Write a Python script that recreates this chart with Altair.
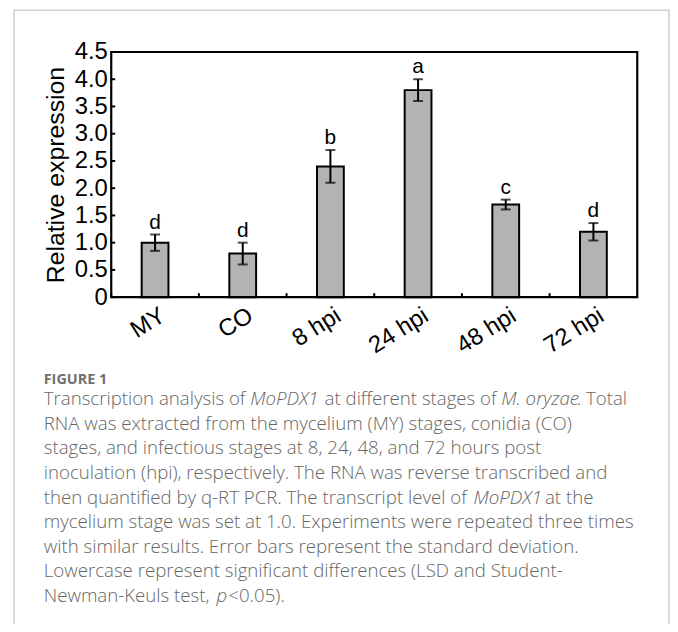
import altair as alt
import pandas as pd

# ---------------- data ----------------
stages = ["MY", "CO", "8 hpi", "24 hpi", "48 hpi", "72 hpi"]
means = [1.0, 0.8, 2.4, 3.8, 1.7, 1.2]
sds = [0.15, 0.2, 0.3, 0.2, 0.09, 0.16]
letters = ["d", "d", "b", "a", "c", "d"]
y_ticks = [0, 0.5, 1.0, 1.5, 2.0, 2.5, 3.0, 3.5, 4.0, 4.5]

figure_label = "FIGURE 1"
caption_segments = [
    ["Transcription analysis of ", "MoPDX1", "at different stages of ", "M. oryzae", ". Total"],
    ["RNA was extracted from the mycelium (MY) stages, conidia (CO)"],
    ["stages, and infectious stages at 8, 24, 48, and 72 hours post"],
    ["inoculation (hpi), respectively. The RNA was reverse transcribed and"],
    ["then quantified by q-RT PCR. The transcript level of ", "MoPDX1", "at the"],
    ["mycelium stage was set at 1.0. Experiments were repeated three times"],
    ["with similar results. Error bars represent the standard deviation."],
    ["Lowercase represent significant differences (LSD and Student-"],
    ["Newman-Keuls test, ", "p", "<0.05)."],
]
italic_flags = [
    [False, True, False, True, False],
    [False], [False], [False],
    [False, True, False],
    [False], [False], [False],
    [False, True, False],
]

# ---------------- layout (pixels, relative to plot area) ----------------
W, H = 530, 247
seg_x = [
    [-68, 140, 215, 393, 469],
    [-68], [-68], [-68],
    [-68, 365, 437],
    [-68], [-68], [-68],
    [-68, 106, 118],
]
cap_y0 = 356
cap_dy = 24.75
CAP_FONT = "Open Sans"
CAP_SIZE = 18.8

df = pd.DataFrame({"stage": stages, "mean": means, "sd": sds, "letter": letters})
df["lo"] = df["mean"] - df["sd"]
df["hi"] = df["mean"] + df["sd"]

FONT = "Liberation Sans"
yscale = alt.Scale(domain=[0, 4.5], nice=False)
xs = alt.Scale(paddingInner=0, paddingOuter=0)

xaxis = alt.Axis(title=None, labelAngle=-32, labelAlign="right",
                 labelBaseline="top", labelFontSize=24, labelFont=FONT,
                 labelColor="black", labelPadding=6, ticks=False,
                 domain=False, labelOffset=2)
yaxis = alt.Axis(title="Relative expression", values=y_ticks,
                 labelExpr="datum.value == 0 ? '0' : format(datum.value, '.1f')",
                 labelFontSize=24, labelFont=FONT, labelColor="black",
                 labelOverlap=False, labelFlush=False,
                 labelPadding=4, ticks=False, domain=False, grid=False,
                 titleFontSize=25, titleFont=FONT, titleFontWeight="normal",
                 titleColor="black", titlePadding=6)

xenc = alt.X("stage:N", sort=stages, scale=xs, axis=xaxis)


def yenc(field):
    return alt.Y(field, scale=yscale, axis=yaxis)


base = alt.Chart(df)

bars = base.mark_bar(size=27, color="#b3b3b3", stroke="black", strokeWidth=2).encode(
    x=xenc, y=yenc("mean:Q"))
err = base.mark_rule(color="black", strokeWidth=2).encode(
    x=xenc, y=yenc("lo:Q"), y2="hi:Q")
cap_lo = base.mark_tick(color="black", thickness=2, size=10, orient="horizontal").encode(
    x=xenc, y=yenc("lo:Q"))
cap_hi = base.mark_tick(color="black", thickness=2, size=10, orient="horizontal").encode(
    x=xenc, y=yenc("hi:Q"))
lab = base.mark_text(font=FONT, fontSize=21, baseline="bottom", dy=-2, color="black").encode(
    x=xenc, y=yenc("hi:Q"), text="letter:N")

# inward ticks at band edges (x) and at tick values (y)
xt = base.mark_rule(color="black", strokeWidth=2).encode(
    x=alt.X("stage:N", sort=stages, scale=xs, axis=xaxis, bandPosition=0),
    y=alt.value(H), y2=alt.value(H - 4))
yt = alt.Chart(pd.DataFrame({"v": y_ticks})).mark_rule(color="black", strokeWidth=2).encode(
    y=yenc("v:Q"), x=alt.value(0), x2=alt.value(4))

one = pd.DataFrame({"k": [0]})
frame = alt.Chart(one).mark_rect(fill=None, stroke="black", strokeWidth=2.2).encode(
    x=alt.value(0), x2=alt.value(W), y=alt.value(0), y2=alt.value(H))
border = alt.Chart(one).mark_rect(fill=None, stroke="#cfcfcf", strokeWidth=1.5).encode(
    x=alt.value(-98), x2=alt.value(562), y=alt.value(-42), y2=alt.value(600))

texts = []
texts.append(alt.Chart(pd.DataFrame({"t": [figure_label]})).mark_text(
    font=CAP_FONT, fontSize=14.5, fontWeight="bold", color="#707070", align="left",
    baseline="alphabetic").encode(text="t:N", x=alt.value(-68), y=alt.value(cap_y0 - 21)))
for i, (segs, flags, xs_) in enumerate(zip(caption_segments, italic_flags, seg_x)):
    for s, it, x in zip(segs, flags, xs_):
        texts.append(alt.Chart(pd.DataFrame({"t": [s]})).mark_text(
            font=CAP_FONT, fontSize=CAP_SIZE, fontWeight=300, color="#666666", align="left",
            baseline="alphabetic", fontStyle="italic" if it else "normal").encode(
            text="t:N", x=alt.value(x), y=alt.value(cap_y0 + i * cap_dy)))

chart = alt.layer(border, bars, err, cap_lo, cap_hi, lab, xt, yt, frame, *texts).properties(
    width=W, height=H,
    autosize=alt.AutoSizeParams(type="none"),
    padding={"left": 104, "top": 42, "right": 33, "bottom": 327},
).configure_view(stroke=None).configure(background="white")

chart.save("out.html", embed_options={"renderer": "svg", "actions": False})
